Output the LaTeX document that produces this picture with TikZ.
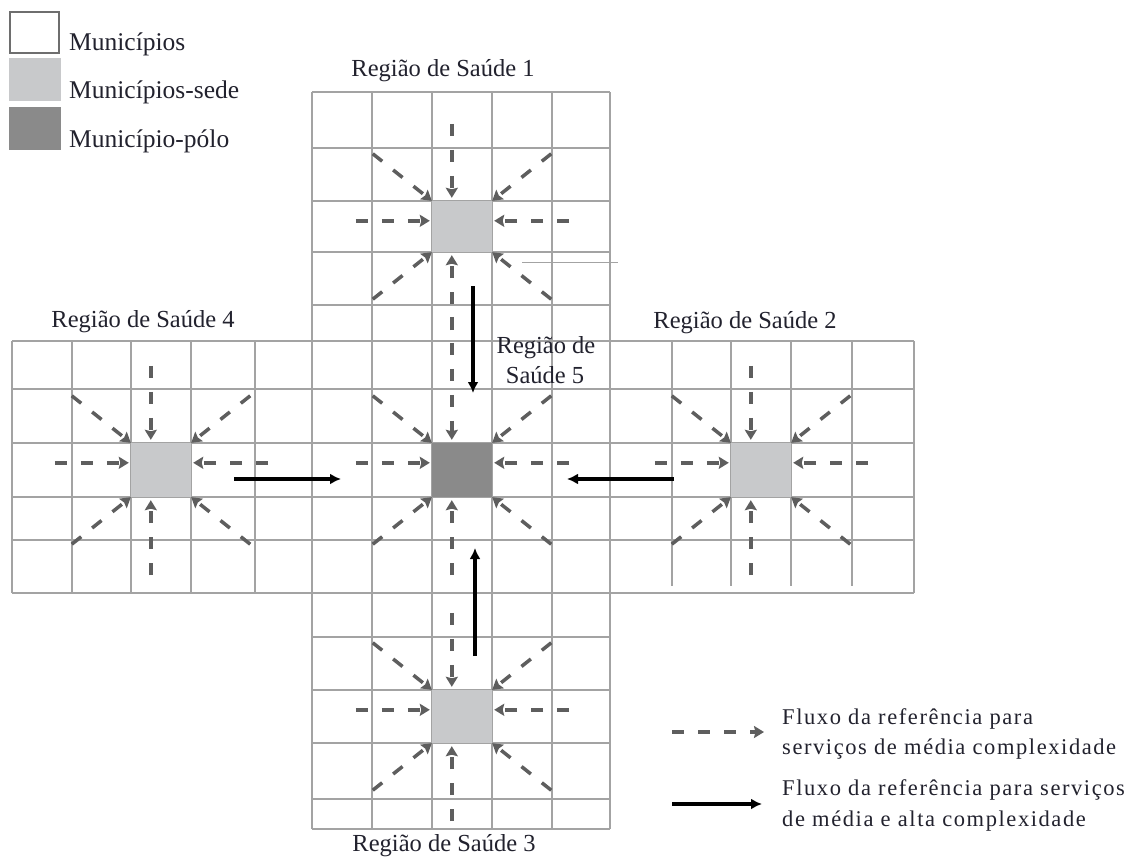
\documentclass[tikz,border=0pt]{standalone}
\usepackage{fontspec}
\setmainfont{Liberation Serif}
\newfontfamily\lgfont[LetterSpace=7]{Liberation Serif}
\usetikzlibrary{arrows.meta,calc}
\definecolor{gridc}{HTML}{A3A3A3}
\definecolor{sedec}{HTML}{C8C9CB}
\definecolor{poloc}{HTML}{8A8A8A}
\definecolor{arrc}{HTML}{5E5E5E}
\definecolor{txtc}{HTML}{22222E}
\definecolor{boxc}{HTML}{6E6E6E}
\tikzset{
  gridline/.style={draw=gridc, line width=2pt},
  sqnode/.style={draw=none, inner sep=0pt, minimum width=60pt},
  darr/.style={draw=arrc, line width=3.5pt, dash pattern=on 12pt off 14pt,
    -{Stealth[length=10pt,width=12pt,inset=1.5pt]}},
  barr/.style={draw=black, line width=3.5pt, -{Latex[length=11pt,width=11pt]}},
  lbl/.style={text=txtc, font=\fontsize{24.5}{28}\selectfont, inner sep=0pt},
  leg/.style={text=txtc, font=\fontsize{25.5}{30}\selectfont, inner sep=0pt, anchor=base west},
  leg2/.style={text=txtc, font=\lgfont\fontsize{22.5}{26}\selectfont, inner sep=0pt, anchor=base west},
}
\newcommand\fluxo[2]{%
  \draw[darr] ($(#1.north west)+(20,-77-#2)$) -- ($(#1.north west)+(20,-3)$);
  \draw[darr] ($(#1.south west)+(20,78)$) -- ($(#1.south west)+(20,3)$);
  \draw[darr] ($(#1.north west)+(-76,20)$) -- ($(#1.north west)+(-2,20)$);
  \draw[darr] ($(#1.north east)+(77,20)$) -- ($(#1.north east)+(2,20)$);
  \draw[darr] ($(#1.north west)+(-59,-47)$) -- (#1.north west);
  \draw[darr] ($(#1.north east)+(59,-47)$) -- (#1.north east);
  \draw[darr] ($(#1.south west)+(-59,47)$) -- (#1.south west);
  \draw[darr] ($(#1.south east)+(59,47)$) -- (#1.south east);
}
\begin{document}
\begin{tikzpicture}[x=1pt,y=-1pt]
\useasboundingbox (0,0) rectangle (1138,859);
\fill[white] (0,0) rectangle (1138,859);

% grid: central column
\foreach \x in {312,372,432,492,552,610} \draw[gridline] (\x,92) -- (\x,829);
\foreach \y in {92,148,201,252,305,637,690,743,799,829} \draw[gridline] (312,\y) -- (610,\y);
% middle band
\foreach \y in {341,389,443,497,540,593} \draw[gridline] (12,\y) -- (914,\y);
\foreach \x in {12,72,131,191,255} \draw[gridline] (\x,341) -- (\x,593);
\foreach \x in {672,731,791,852} \draw[gridline] (\x,341) -- (\x,586);
\draw[gridline] (914,341) -- (914,593);
% stray thin line
\draw[draw=gridc, line width=1pt] (522,262) -- (618,262);

% seats
\node[sqnode, fill=sedec, minimum height=51pt] (r1) at (462,226.5) {};
\node[sqnode, fill=sedec, minimum height=54pt] (r4) at (161,470) {};
\node[sqnode, fill=poloc, minimum height=54pt] (r5) at (462,470) {};
\node[sqnode, fill=sedec, minimum height=54pt] (r2) at (761,470) {};
\node[sqnode, fill=sedec, minimum height=53pt] (r3) at (462,716.5) {};

\fluxo{r1}{0}
\fluxo{r4}{0}
\fluxo{r5}{49}
\fluxo{r2}{0}
\fluxo{r3}{0}

% black arrows
\coordinate (a1s) at (473,286); \coordinate (a1e) at (473,393);
\coordinate (a3s) at (475,656); \coordinate (a3e) at (475,548);
\coordinate (a4s) at (234,479); \coordinate (a4e) at (341,479);
\coordinate (a2s) at (674,479); \coordinate (a2e) at (567,479);
\draw[barr] (a1s) -- (a1e);
\draw[barr] (a3s) -- (a3e);
\draw[barr] (a4s) -- (a4e);
\draw[barr] (a2s) -- (a2e);

% region labels
\node[lbl, anchor=base] (t1) at (443,77) {Região de Saúde 1};
\node[lbl, anchor=base] (t4) at (143,327) {Região de Saúde 4};
\node[lbl, anchor=base] (t2) at (745,328) {Região de Saúde 2};
\node[lbl, anchor=base] (t5a) at (546,353) {Região de};
\node[lbl, anchor=base] (t5b) at (545,383) {Saúde 5};
\node[lbl, anchor=base] (t3) at (444,851) {Região de Saúde 3};

% top-left legend
\draw[draw=boxc, line width=1.5pt, fill=white] (10,12) rectangle (59,53);
\fill[sedec] (9,58) rectangle (61,101);
\fill[poloc] (9,107) rectangle (61,150);
\node[leg] (l1) at (69,51) {Municípios};
\node[leg] (l2) at (69,99) {Municípios-sede};
\node[leg] (l3) at (69,147) {Município-pólo};

% bottom-right legend
\coordinate (ld1) at (672,732); \coordinate (ld2) at (764,732);
\draw[darr] (ld1) -- (ld2);
\coordinate (lb1) at (672,804); \coordinate (lb2) at (762,804);
\draw[barr] (lb1) -- (lb2);
\node[leg2] (f1) at (782,724) {Fluxo da referência para};
\node[leg2] (f2) at (782,754) {serviços de média complexidade};
\node[leg2] (f3) at (782,795) {Fluxo da referência para serviços};
\node[leg2] (f4) at (782,826) {de média e alta complexidade};
\end{tikzpicture}
\end{document}
